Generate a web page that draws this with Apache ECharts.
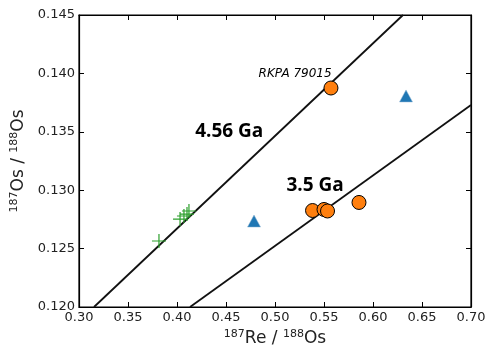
<!DOCTYPE html>
<html><head><meta charset="utf-8">
<script src="https://cdn.jsdelivr.net/npm/echarts@6/dist/echarts.min.js"></script>
<style>html,body{margin:0;padding:0;background:#fff}#c{width:485px;height:345px}</style>
</head><body><div id="c"></div>
<script>
// Data
const xTicks = [0.30,0.35,0.40,0.45,0.50,0.55,0.60,0.65,0.70];
const yTicks = [0.120,0.125,0.130,0.135,0.140,0.145];
const orangeCircles = [[0.5571,0.13875],[0.5383,0.12826],[0.5500,0.12835],[0.5536,0.12822],[0.5857,0.12895]];
const blueTriangles = [[0.4786,0.12736],[0.6337,0.13807]];
const greenCrosses = [[0.3816,0.12565],[0.4031,0.12753],[0.4071,0.12779],[0.4102,0.12796],[0.4122,0.12822]];
const isochron456 = [[0.3153,0.120],[0.6306,0.145]];
const isochron35 = [[0.4133,0.120],[0.70,0.1373]];
const labels = [
  {text:'4.56 Ga', x:0.4180, y:0.1350},
  {text:'3.5 Ga', x:0.5112, y:0.1304},
  {text:'RKPA 79015', x:0.4827, y:0.1400}
];

const chart = echarts.init(document.getElementById('c'), null, {renderer:'canvas'});
const font = 'DejaVu Sans';
const option = {
  animation:false,
  grid:{left:79, right:14, top:15, bottom:38, outerBoundsMode:'none', containLabel:false,
    show:true, borderColor:'#000', borderWidth:1.2},
  xAxis:[{
    type:'value', min:0.30, max:0.70, interval:0.05, position:'bottom',
    axisLine:{show:true, lineStyle:{color:'#000', width:1.2}},
    axisTick:{show:true, inside:true, length:5, lineStyle:{color:'#000'}},
    axisLabel:{fontFamily:font, fontSize:13, color:'#222', margin:4, formatter:v=>v.toFixed(2)},
    splitLine:{show:false},
    name:'{sup|187}Re / {sup|188}Os', nameLocation:'middle', nameGap:22,
    nameTextStyle:{fontFamily:font, fontSize:17, color:'#222',
      rich:{sup:{fontFamily:font, fontSize:11, color:'#222', verticalAlign:'top', padding:[0,0,8,0]}}}
  },{
    type:'value', min:0.30, max:0.70, interval:0.05, position:'top',
    axisLine:{show:true, lineStyle:{color:'#000', width:1.2}},
    axisTick:{show:true, inside:true, length:5, lineStyle:{color:'#000'}},
    axisLabel:{show:false}, splitLine:{show:false}
  }],
  yAxis:[{
    type:'value', min:0.120, max:0.145, interval:0.005, position:'left',
    axisLine:{show:true, lineStyle:{color:'#000', width:1.2}},
    axisTick:{show:true, inside:true, length:5, lineStyle:{color:'#000'}},
    axisLabel:{fontFamily:font, fontSize:13, color:'#222', margin:4, formatter:v=>v.toFixed(3)},
    splitLine:{show:false},
    name:'{sup|187}Os / {sup|188}Os', nameLocation:'middle', nameGap:40, nameRotate:90,
    nameTextStyle:{fontFamily:font, fontSize:17, color:'#222',
      rich:{sup:{fontFamily:font, fontSize:11, color:'#222', verticalAlign:'top', padding:[0,0,8,0]}}}
  },{
    type:'value', min:0.120, max:0.145, interval:0.005, position:'right',
    axisLine:{show:true, lineStyle:{color:'#000', width:1.2}},
    axisTick:{show:true, inside:true, length:5, lineStyle:{color:'#000'}},
    axisLabel:{show:false}, splitLine:{show:false}
  }],
  series:[
    {type:'line', data:isochron456, symbol:'none', lineStyle:{color:'#111', width:1.8}, z:2},
    {type:'line', data:isochron35, symbol:'none', lineStyle:{color:'#111', width:1.8}, z:2},
    {type:'scatter', data:greenCrosses, symbol:'path://M0,7L14,7M7,0L7,14', symbolSize:14,
      itemStyle:{color:'transparent', borderColor:'#2ca02c', borderWidth:1.2, opacity:1}, z:3},
    {type:'scatter', data:blueTriangles, symbol:'triangle', symbolSize:[13,12],
      itemStyle:{color:'#1f77b4', borderColor:'#8fb5d3', borderWidth:0.5, opacity:1}, z:3},
    {type:'scatter', data:orangeCircles, symbol:'circle', symbolSize:14,
      itemStyle:{color:'#ff7f0e', borderColor:'#000', borderWidth:1, opacity:1}, z:4},
    {type:'scatter', symbol:'circle', symbolSize:1, silent:true, z:5,
      itemStyle:{color:'rgba(0,0,0,0)', opacity:0},
      data:labels.map((l,i)=>({value:[l.x,l.y],
        label:{show:true, position:'right', distance:0, formatter:l.text,
          fontFamily: i<2 ? 'Open Sans' : font,
          fontWeight: i<2 ? 'bold' : 'normal',
          fontStyle: i<2 ? 'normal' : 'italic',
          fontSize: i<2 ? 19 : 12, color:'#000', opacity:1}}))}
  ]
};
chart.setOption(option);
</script></body></html>
